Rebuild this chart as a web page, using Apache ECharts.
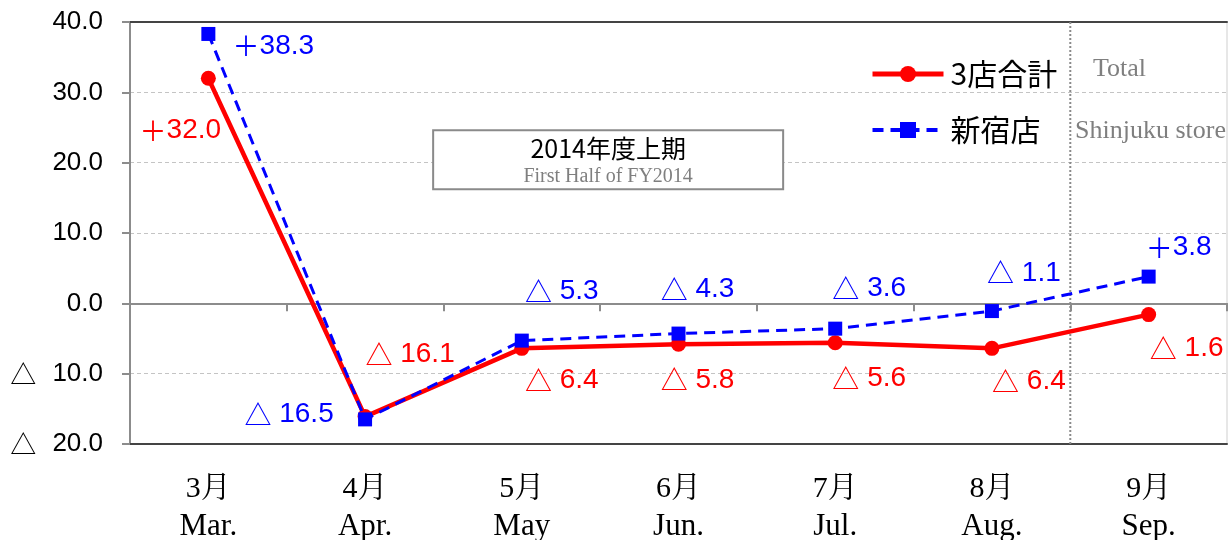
<!DOCTYPE html>
<html><head><meta charset="utf-8">
<script src="https://cdn.jsdelivr.net/npm/echarts@6/dist/echarts.min.js"></script>
<style>html,body{margin:0;padding:0;background:#fff}#c{width:1228px;height:540px}</style>
</head><body><div id="c"></div>
<script>
const categoriesJa = ['3月','4月','5月','6月','7月','8月','9月'];
const categoriesEn = ['Mar.','Apr.','May','Jun.','Jul.','Aug.','Sep.'];
const totalValues = [32.0, -16.1, -6.4, -5.8, -5.6, -6.4, -1.6];
const shinjukuValues = [38.3, -16.5, -5.3, -4.3, -3.6, -1.1, 3.8];
const seriesNames = ['3店合計', '新宿店'];
const seriesNamesEn = ['Total', 'Shinjuku store'];
const periodTitle = '2014年度上期';
const periodSubtitle = 'First Half of FY2014';

// label offsets (style only)
const totalOffsets = [[-28,52],[45,-62],[40,32],[19,36],[34,36],[37,33],[38,34]];
const shinOffsets = [[65,12],[-76,-5],[40,-49],[19,-44],[34,-40],[32,-38],[30,-29]];

function fmtVal(v){
  return v < 0 ? '{s|△}{n| ' + Math.abs(v).toFixed(1) + '}' : '{s|＋}{n|' + v.toFixed(1) + '}';
}
function fmtAxis(v){
  return v < 0 ? '{s|△}{n| ' + Math.abs(v).toFixed(1) + '}' : '{n|' + v.toFixed(1) + '}';
}
const numFont = '"Liberation Sans", Arial, sans-serif';
const cjkFont = '"Noto Sans CJK JP", sans-serif';

function buildData(vals, offs, color){
  return vals.map((v,i)=>({value:v, label:{show:true, position:'inside', offset:offs[i],
    formatter:(p)=>fmtVal(p.value),
    rich:{s:{color:color, fontSize:27, fontFamily:cjkFont}, n:{color:color, fontSize:28, fontFamily:numFont}}}}));
}

const chart = echarts.init(document.getElementById('c'), null, {renderer:'canvas'});
const option = {
  animation:false,
  backgroundColor:'#fff',
  grid:{left:130, right:1, top:22, bottom:96, show:true, borderColor:'#cfcfcf', borderWidth:1,
    containLabel:false, outerBoundsMode:'none'},
  legend:{
    orient:'vertical', left:865, top:54, itemWidth:71, itemHeight:20, itemGap:26,
    textStyle:{fontSize:30, color:'#000', fontFamily:'"Noto Sans CJK JP"', padding:[0,0,0,2]},
    data:[{name:seriesNames[0], lineStyle:{width:5}}, {name:seriesNames[1], lineStyle:{width:4}}]
  },
  xAxis:[
    {type:'category', data:categoriesJa, position:'bottom', boundaryGap:true,
      axisLine:{onZero:true, lineStyle:{color:'#8c8c8c', width:2}},
      axisTick:{show:true, inside:false, length:8, lineStyle:{color:'#8c8c8c', width:2}},
      axisLabel:{show:false}, splitLine:{show:false}},
    {type:'category', data:categoriesJa, position:'bottom', boundaryGap:true,
      axisLine:{onZero:false, show:true, lineStyle:{color:'#444', width:2}},
      axisTick:{show:false},
      axisLabel:{show:true, margin:26, interval:0,
        formatter:(v, i)=> '{ja|' + v + '}\n{en|' + categoriesEn[i] + '}',
        rich:{ja:{fontSize:30, fontFamily:'"Liberation Serif", "Noto Serif CJK JP", serif', color:'#000', lineHeight:39},
              en:{fontSize:31, fontFamily:'"Liberation Serif", serif', color:'#000', lineHeight:36}}}},
    {type:'category', data:categoriesJa, position:'top', boundaryGap:true,
      axisLine:{onZero:false, show:true, lineStyle:{color:'#444', width:2}},
      axisTick:{show:false}, axisLabel:{show:false}}
  ],
  yAxis:{type:'value', min:-20, max:40, interval:10,
    axisLine:{show:true, lineStyle:{color:'#8c8c8c', width:2}},
    axisTick:{show:true, length:8, lineStyle:{color:'#8c8c8c', width:2}},
    axisLabel:{formatter:fmtAxis, margin:27,
      rich:{s:{color:'#000', fontSize:26, fontFamily:cjkFont, padding:[0,9,0,0]}, n:{color:'#000', fontSize:26, fontFamily:numFont}}},
    splitLine:{show:true, lineStyle:{color:'#c4c4c4', type:[4,3], width:1}}
  },
  series:[
    {name:seriesNames[0], type:'line', xAxisIndex:0, data:buildData(totalValues, totalOffsets, '#ff0000'),
      symbol:'circle', symbolSize:15, itemStyle:{color:'#ff0000'},
      lineStyle:{color:'#ff0000', width:4.5}, z:2},
    {name:seriesNames[1], type:'line', xAxisIndex:0, data:buildData(shinjukuValues, shinOffsets, '#0000ff'),
      symbol:'rect', symbolSize:14, itemStyle:{color:'#0000ff'},
      lineStyle:{color:'#0000ff', width:3, type:[11,7]}, z:3}
  ]
};
chart.setOption(option);

// decorations positioned from the chart's own scales
const pAug = chart.convertToPixel({xAxisIndex:0}, categoriesJa[5]);
const pSep = chart.convertToPixel({xAxisIndex:0}, categoriesJa[6]);
const xDiv = (pAug + pSep) / 2;
const yTop = chart.convertToPixel({yAxisIndex:0}, 40);
const yBot = chart.convertToPixel({yAxisIndex:0}, -20);
const yBox = chart.convertToPixel({yAxisIndex:0}, 24.6);
const pMay = chart.convertToPixel({xAxisIndex:0}, categoriesJa[2]);
const pJun = chart.convertToPixel({xAxisIndex:0}, categoriesJa[3]);
const boxCx = (pMay + pJun) / 2 + 8;

chart.setOption({graphic:[
  {type:'line', shape:{x1:xDiv, y1:yTop, x2:xDiv, y2:yBot}, style:{stroke:'#8a8a8a', lineWidth:2, lineDash:[2,2]}, z:1},
  {type:'rect', shape:{x:boxCx-175, y:yBox, width:350, height:59}, style:{fill:'#fff', stroke:'#8a8a8a', lineWidth:2}, z:5},
  {type:'text', x:boxCx, y:yBox+18, style:{text:periodTitle, fill:'#000', font:'25px "Noto Sans CJK JP", sans-serif', align:'center', verticalAlign:'middle'}, z:6},
  {type:'text', x:boxCx, y:yBox+46, style:{text:periodSubtitle, fill:'#7f7f7f', font:'20px "Liberation Serif", serif', align:'center', verticalAlign:'middle'}, z:6},
  {type:'text', x:1093, y:69, style:{text:seriesNamesEn[0], fill:'#7f7f7f', font:'26px "Liberation Serif", serif', align:'left', verticalAlign:'middle'}, z:6},
  {type:'text', x:1075, y:131, style:{text:seriesNamesEn[1], fill:'#7f7f7f', font:'26px "Liberation Serif", serif', align:'left', verticalAlign:'middle'}, z:6}
]});
</script></body></html>
